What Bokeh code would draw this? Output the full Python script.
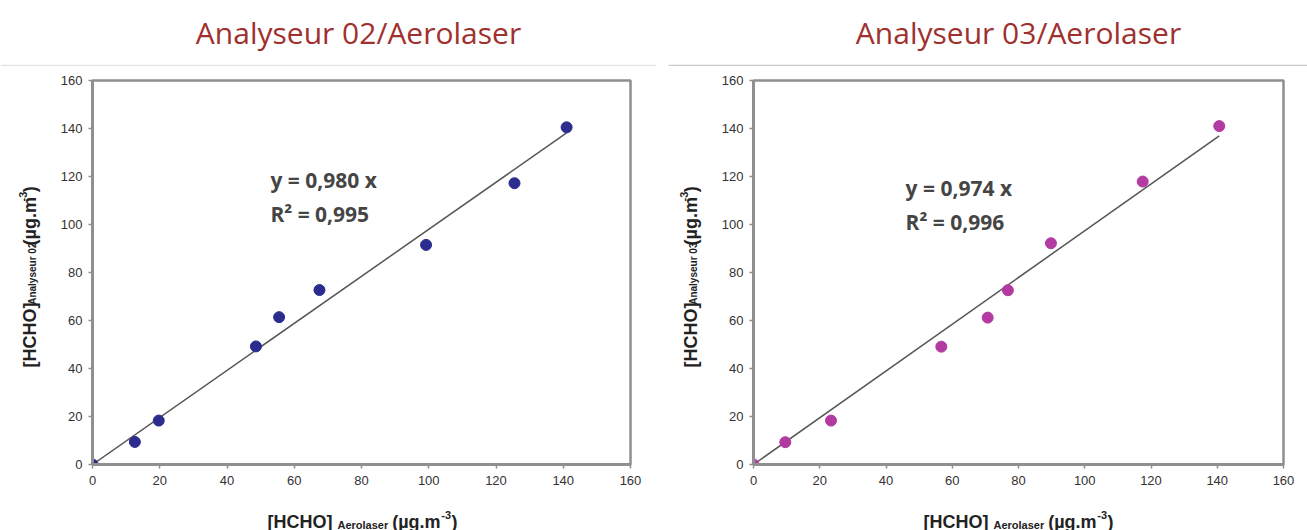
from bokeh.plotting import figure
from bokeh.models import Range1d, FixedTicker
from bokeh.layouts import column, row
from bokeh.embed import file_html
from bokeh.resources import INLINE
from bokeh.core.properties import value
import math

# ---------------- data ----------------
titles = ["Analyseur 02/Aerolaser", "Analyseur 03/Aerolaser"]
tick_values = [0, 20, 40, 60, 80, 100, 120, 140, 160]

aerolaser_02 = [0, 12.6, 19.7, 48.6, 55.5, 67.5, 99.2, 125.5, 141.0]
analyseur_02 = [0, 9.4, 18.3, 49.2, 61.4, 72.7, 91.5, 117.2, 140.5]
slope_02 = 0.980
r2_02 = "0,995"

aerolaser_03 = [0, 9.6, 23.4, 56.7, 70.7, 76.8, 89.8, 117.5, 140.6]
analyseur_03 = [0, 9.3, 18.3, 49.1, 61.2, 72.6, 92.2, 117.9, 141.0]
slope_03 = 0.974
r2_03 = "0,996"

x_main = "[HCHO]"
x_sub = "Aerolaser"
unit_main = "(µg.m"
unit_sup = "-3"
unit_end = ")"
y_subs = ["Analyseur 02", "Analyseur 03"]

# ---------------- styling ----------------
AX_FONT = "Liberation Sans"
BOLD_W = {"[": 333, "]": 333, "H": 722, "C": 722, "O": 778, "(": 333, ")": 333,
          "µ": 611, "g": 611, ".": 278, "m": 889, "-": 333, "3": 556, "0": 556,
          "2": 556, " ": 278, "A": 722, "e": 556, "r": 389, "o": 611, "l": 278,
          "a": 556, "s": 556, "n": 611, "y": 556, "u": 611}
XMAX = YMAX = 160
MAIN_SZ, SUP_SZ = 18, 11
LABEL_COLOR = "#222222"


def tw(s, size):
    return sum(BOLD_W.get(c, 600) for c in s) * size / 1000.0


def label_pieces(sub, sub_sz):
    pieces = [(x_main, MAIN_SZ, 0), (sub, sub_sz, -3), (unit_main, MAIN_SZ, 0),
              (unit_sup, SUP_SZ, 7), (unit_end, MAIN_SZ, 0)]
    gaps = [5, 4, 0, 0.5, 0]
    total = sum(tw(t, s) for t, s, _ in pieces) + sum(gaps)
    out, pos = [], 0
    for (t, s, off), g in zip(pieces, gaps):
        out.append((t, s, off, pos))
        pos += tw(t, s) + g
    return out, total


def blank(width, height, xr, yr):
    f = figure(width=width, height=height, x_range=Range1d(*xr), y_range=Range1d(*yr),
               toolbar_location=None, output_backend="svg", min_border=0)
    f.axis.visible = False
    f.grid.visible = False
    f.outline_line_color = None
    return f


def make_plot(width, left, right, xs, ys, slope, r2, color, eq_x, eq_y):
    p = figure(width=width, height=428, x_range=Range1d(0, XMAX), y_range=Range1d(0, YMAX),
               toolbar_location=None, output_backend="svg",
               min_border_left=left, min_border_right=right,
               min_border_top=14, min_border_bottom=30)
    p.xgrid.visible = False
    p.ygrid.visible = False
    p.outline_line_color = "#8f8f8f"
    p.outline_line_width = 2.5
    for ax in (p.xaxis[0], p.yaxis[0]):
        ax.ticker = FixedTicker(ticks=tick_values)
        ax.axis_line_color = "#8f8f8f"
        ax.axis_line_width = 3
        ax.major_tick_line_color = "#8f8f8f"
        ax.major_tick_line_width = 1.5
        ax.major_tick_in = 0
        ax.major_tick_out = 4
        ax.minor_tick_line_color = None
        ax.major_label_text_font = AX_FONT
        ax.major_label_text_font_size = "13px"
        ax.major_label_text_color = "#333333"
    p.xaxis.major_label_standoff = 7
    p.yaxis.major_label_standoff = 6

    xmax = max(xs)
    p.line([0, xmax], [0, slope * xmax], line_color="#555555", line_width=1.5)
    p.scatter(xs, ys, size=11, fill_color=color, line_color=color, marker="circle")

    eq1 = "y = " + f"{slope:.3f}".replace(".", ",") + " x"
    eq2 = "R² = " + r2
    p.text(x=[eq_x, eq_x], y=[eq_y, eq_y - 14.2], text=[eq1, eq2],
           text_font=value("Open Sans"), text_font_size="21px", text_font_style="bold",
           text_color="#454545", text_align="left", text_baseline="middle")
    return p


def ylabel_strip(sub, base_x):
    s = blank(50, 428, (0, 50), (0, 428))
    pieces, total = label_pieces(sub, 10)
    start = 108
    for t, sz, off, pos in pieces:
        s.text(x=[base_x - off], y=[start + pos], text=[t], angle=math.pi / 2,
               text_font=value(AX_FONT), text_font_size=f"{sz}px", text_font_style="bold",
               text_color=LABEL_COLOR, text_align="left", text_baseline="alphabetic")
    return s


# header with titles and separator
header = blank(1307, 66, (0, 1307), (0, 66))
header.text(x=[358, 1018], y=[34, 34], text=titles, text_font=value("Open Sans"),
            text_font_size="30px", text_color="#A0302E", text_align="center",
            text_baseline="middle")
header.segment(x0=[0, 668], y0=[1, 1], x1=[655, 1307], y1=[1, 1],
               line_color=["#e2e2e2", "#c9c9c9"], line_width=1.5)

# footer with x-axis labels
footer = blank(1307, 36, (0, 1307), (0, 36))
for cx in (362, 1018):
    pieces, total = label_pieces(x_sub, 11)
    start = cx - total / 2
    for t, sz, off, pos in pieces:
        footer.text(x=[start + pos], y=[9 + off], text=[t],
                    text_font=value(AX_FONT), text_font_size=f"{sz}px", text_font_style="bold",
                    text_color=LABEL_COLOR, text_align="left", text_baseline="alphabetic")

p1 = make_plot(610, 42, 30, aerolaser_02, analyseur_02, slope_02, r2_02, "#2B2C8E",
               52.9, 118.7)
p2 = make_plot(597, 43, 24, aerolaser_03, analyseur_03, slope_03, r2_03, "#B23AA0",
               45.9, 115.3)
s1 = ylabel_strip(y_subs[0], 29)
s2 = ylabel_strip(y_subs[1], 30)

layout = column(header, row(s1, p1, s2, p2, spacing=0), footer, spacing=0)
open("out.html", "w").write(file_html(layout, INLINE))
